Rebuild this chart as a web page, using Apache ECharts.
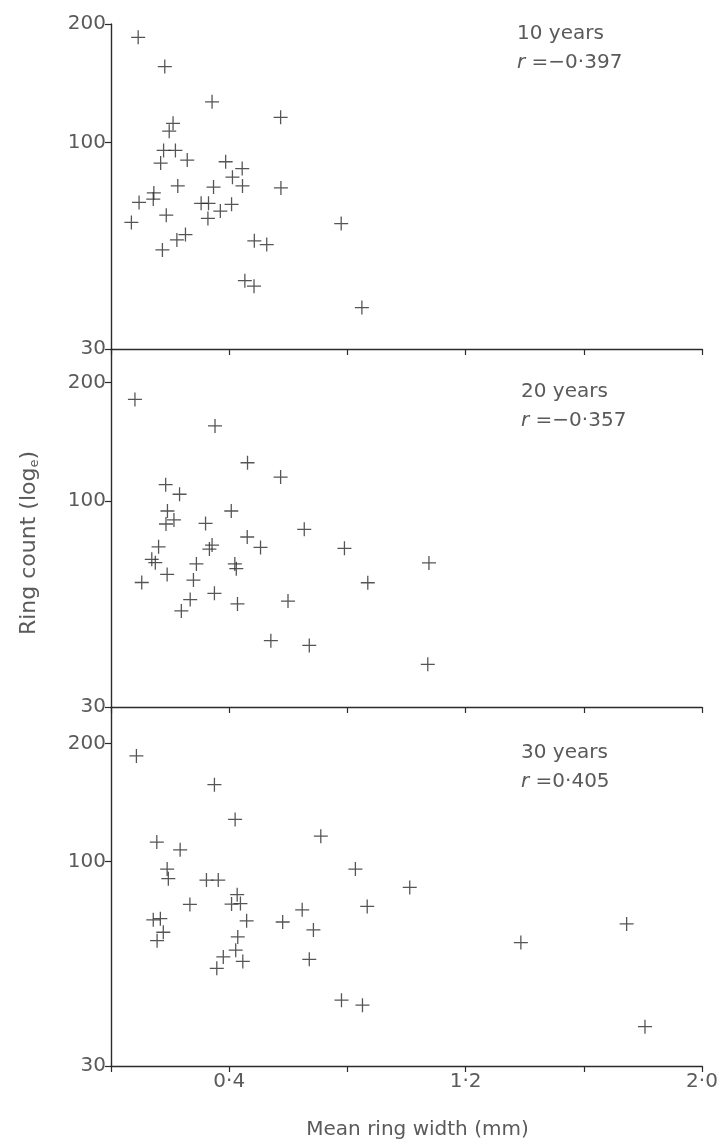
<!DOCTYPE html>
<html>
<head>
<meta charset="utf-8">
<script src="https://cdn.jsdelivr.net/npm/echarts@6/dist/echarts.min.js"></script>
<style>
  html, body { margin: 0; padding: 0; background: #fff; }
  #chart { width: 726px; height: 1146px; }
</style>
</head>
<body>
<div id="chart"></div>
<script>
// mean ring width (mm) / ring count, one pair of arrays per panel
const width10 = [0.092, 0.182, 0.342, 0.574, 0.210, 0.197, 0.178, 0.218, 0.168, 0.258, 0.388, 0.444,
    0.411, 0.226, 0.347, 0.445, 0.575, 0.145, 0.143, 0.095, 0.305, 0.330, 0.408, 0.370,
    0.069, 0.187, 0.328, 0.779, 0.252, 0.223, 0.174, 0.485, 0.527, 0.453, 0.484, 0.849];
const count10 = [185, 156, 127, 116, 112, 107, 95.6, 95.6, 88.8, 90.4, 89.5, 86.0,
    81.8, 77.7, 77.2, 77.7, 76.8, 74.6, 72.0, 70.6, 70.2, 70.2, 69.8, 67.1,
    62.8, 65.5, 64.3, 62.4, 58.5, 56.7, 53.5, 56.4, 55.2, 44.7, 43.3, 38.2];

const width20 = [0.081, 0.352, 0.462, 0.574, 0.185, 0.232, 0.407, 0.191, 0.213, 0.186, 0.320, 0.654,
    0.461, 0.342, 0.333, 0.506, 0.161, 0.790, 0.138, 0.150, 1.076, 0.289, 0.419, 0.424,
    0.190, 0.104, 0.279, 0.869, 0.350, 0.268, 0.599, 0.428, 0.238, 0.541, 0.671, 1.072];
const count20 = [181, 155, 125, 115, 110, 104, 94.3, 94.3, 89.5, 87.4, 87.7, 84.7,
    81.0, 77.3, 75.5, 76.2, 76.5, 75.8, 71.1, 69.7, 69.6, 69.2, 69.2, 67.3,
    65.1, 62.1, 63.0, 62.0, 58.3, 56.2, 55.7, 54.8, 52.6, 44.2, 43.0, 38.5];

const width30 = [0.086, 0.350, 0.420, 0.710, 0.155, 0.234, 0.827, 0.190, 0.194, 0.323, 0.363, 1.011,
    0.427, 0.267, 0.408, 0.438, 0.867, 0.647, 0.143, 0.167, 0.459, 0.581, 0.685, 0.177,
    0.156, 0.429, 0.422, 0.380, 0.446, 0.671, 0.358, 0.780, 0.851, 1.387, 1.745, 1.807];
const count30 = [186, 157, 128, 116, 112, 107, 95.6, 95.6, 90.3, 89.6, 89.6, 85.8,
    82.2, 77.6, 77.8, 78.0, 76.7, 75.2, 70.9, 71.4, 70.5, 70.0, 66.8, 65.9,
    62.7, 64.1, 59.3, 57.0, 55.5, 56.2, 53.3, 44.2, 42.9, 62.0, 69.2, 37.8];

const panelNotes = ['10 years', '20 years', '30 years'];
const panelR = ['=\u22120\u00b7397', '=\u22120\u00b7357', '=0\u00b7405'];
const yTicks = [30, 100, 200];
const xLabelled = [0.4, 1.2, 2.0];

const chart = echarts.init(document.getElementById('chart'));

const ink = '#2b2b2b';
const textGrey = '#5a5a5a';
const fontFam = '"DejaVu Sans", sans-serif';
const plus = 'path://M-0.55,-6H0.55V-0.55H6V0.55H0.55V6H-0.55V0.55H-6V-0.55H-0.55Z';

const grids = [
    { left: 111, width: 591, top: 24, height: 325 },
    { left: 111, width: 591, top: 349, height: 358 },
    { left: 111, width: 591, top: 707, height: 359 }
];
const yMax = [200, 243, 248];
const noteTop = [14, 372, 733];
const noteLeft = [512, 516, 516];

function makeX(i) {
    const last = i === 2;
    return {
        type: 'value',
        gridIndex: i,
        min: 0,
        max: 2,
        interval: 0.4,
        axisLine: { lineStyle: { color: ink, width: 1.4 } },
        axisTick: { show: true, inside: false, length: 6, lineStyle: { color: ink, width: 1.2 } },
        axisLabel: {
            show: last,
            color: textGrey,
            fontSize: 20,
            fontFamily: fontFam,
            margin: 6,
            formatter(v) {
                return xLabelled.some((t) => Math.abs(t - v) < 1e-6) ? v.toFixed(1).replace('.', '\u00b7') : '';
            }
        },
        splitLine: { show: false },
        name: last ? 'Mean ring width (mm)' : '',
        nameLocation: 'middle',
        nameGap: 54,
        nameTextStyle: { color: textGrey, fontSize: 20, fontFamily: fontFam, padding: [0, 0, 0, 22] }
    };
}

function makeY(i) {
    return {
        type: 'log',
        gridIndex: i,
        min: 30,
        max: yMax[i],
        axisLine: { show: true, lineStyle: { color: ink, width: 1.4 } },
        axisTick: { show: true, inside: false, length: 6, customValues: yTicks, lineStyle: { color: ink, width: 1.2 } },
        axisLabel: { color: textGrey, fontSize: 20, fontFamily: fontFam, margin: 5, customValues: yTicks },
        minorTick: { show: false },
        splitLine: { show: false },
        name: i === 1 ? 'Ring count (log{sub|e})' : '',
        nameLocation: 'middle',
        nameRotate: 90,
        nameGap: 70,
        nameTextStyle: {
            color: textGrey, fontSize: 22, fontFamily: fontFam, padding: [0, 30, 0, 0],
            rich: { sub: { fontSize: 13, verticalAlign: 'bottom', color: textGrey, fontFamily: fontFam, padding: [10, 0, 0, 0] } }
        }
    };
}

function makeSeries(i, xs, ys) {
    return {
        type: 'scatter',
        xAxisIndex: i,
        yAxisIndex: i,
        symbol: plus,
        symbolSize: 14,
        itemStyle: { color: ink },
        data: xs.map((x, k) => [x, ys[k]]),
        silent: true
    };
}

chart.setOption({
    animation: false,
    backgroundColor: '#fff',
    title: panelNotes.map((t, i) => ({
        text: t + '\n{i|r} ' + panelR[i],
        left: noteLeft[i],
        top: noteTop[i],
        textStyle: {
            color: textGrey,
            fontSize: 20,
            fontWeight: 'normal',
            fontFamily: fontFam,
            lineHeight: 29,
            rich: {
                i: { fontStyle: 'italic', fontSize: 20, color: textGrey, fontFamily: fontFam, lineHeight: 29 }
            }
        }
    })),
    grid: grids,
    xAxis: [0, 1, 2].map(makeX),
    yAxis: [0, 1, 2].map(makeY),
    series: [
        makeSeries(0, width10, count10),
        makeSeries(1, width20, count20),
        makeSeries(2, width30, count30)
    ]
});
</script>
</body>
</html>
